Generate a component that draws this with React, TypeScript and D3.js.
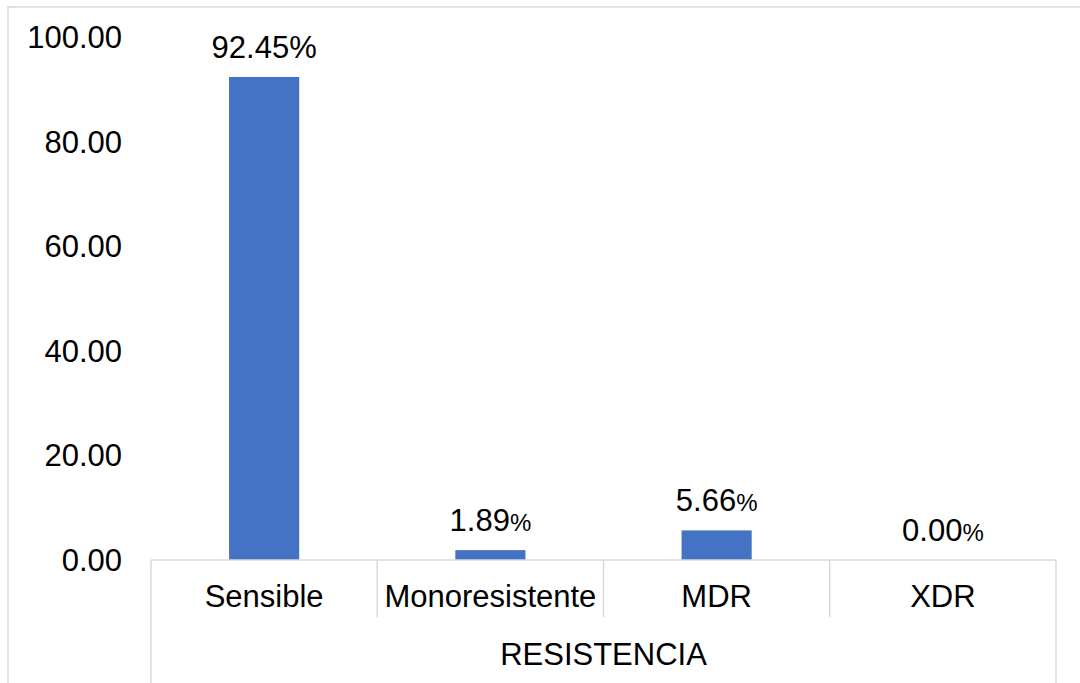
import React from "react";
import * as d3 from "d3";

const categories = ["Sensible", "Monoresistente", "MDR", "XDR"];
const values = [92.45, 1.89, 5.66, 0.0];
const yTicks = [0, 20, 40, 60, 80, 100];
const axisTitle = "RESISTENCIA";

const W = 1080;
const H = 683;
const plotLeft = 151;
const plotRight = 1056;
const baseY = 560;
const topY = 37.5;
const font = "Arial, 'Liberation Sans', sans-serif";
const gridColor = "#d9d9d9";
const barColor = "#4472C4";

export default function App() {
  const x = d3.scaleBand<string>().domain(categories).range([plotLeft, plotRight]).paddingInner(0).paddingOuter(0);
  const y = d3.scaleLinear().domain([0, 100]).range([baseY, topY]);
  const barW = x.bandwidth() * 0.31;
  const fmt = d3.format(".2f");

  return (
    <svg
      width={W}
      height={H}
      style={{ position: "absolute", left: 0, top: 0, background: "#fff" }}
      fontFamily={font}
    >
      {/* chart frame */}
      <rect x={8} y={7} width={W + 20} height={H + 20} fill="#fff" stroke={gridColor} strokeWidth={1.5} />

      {/* y tick labels */}
      {yTicks.map((t) => (
        <text key={t} x={122} y={y(t) + 10.5} textAnchor="end" fontSize={31} fill="#000">
          {fmt(t)}
        </text>
      ))}

      {/* bars */}
      {categories.map((c, i) => (
        <rect
          key={c}
          x={(x(c) as number) + x.bandwidth() / 2 - barW / 2}
          y={y(values[i])}
          width={barW}
          height={baseY - y(values[i])}
          fill={barColor}
        />
      ))}

      {/* value labels */}
      {categories.map((c, i) => (
        <text
          key={c}
          x={(x(c) as number) + x.bandwidth() / 2}
          y={y(values[i]) - 19}
          textAnchor="middle"
          fontSize={31}
          fill="#000"
        >
          {fmt(values[i])}
          <tspan fontSize={i === 0 ? 31 : 24}>%</tspan>
        </text>
      ))}

      {/* category axis */}
      <line x1={plotLeft} x2={plotRight} y1={baseY} y2={baseY} stroke={gridColor} strokeWidth={1.5} />
      {categories.map((c, i) =>
        i === 0 ? null : (
          <line key={c} x1={x(c) as number} x2={x(c) as number} y1={baseY} y2={617} stroke={gridColor} strokeWidth={1.5} />
        )
      )}
      <line x1={plotLeft} x2={plotLeft} y1={baseY} y2={H + 5} stroke={gridColor} strokeWidth={1.5} />
      <line x1={plotRight} x2={plotRight} y1={baseY} y2={H + 5} stroke={gridColor} strokeWidth={1.5} />

      {categories.map((c) => (
        <text key={c} x={(x(c) as number) + x.bandwidth() / 2} y={607} textAnchor="middle" fontSize={31} fill="#000">
          {c}
        </text>
      ))}

      <text x={(plotLeft + plotRight) / 2} y={665} textAnchor="middle" fontSize={31} fill="#000">
        {axisTitle}
      </text>
    </svg>
  );
}
